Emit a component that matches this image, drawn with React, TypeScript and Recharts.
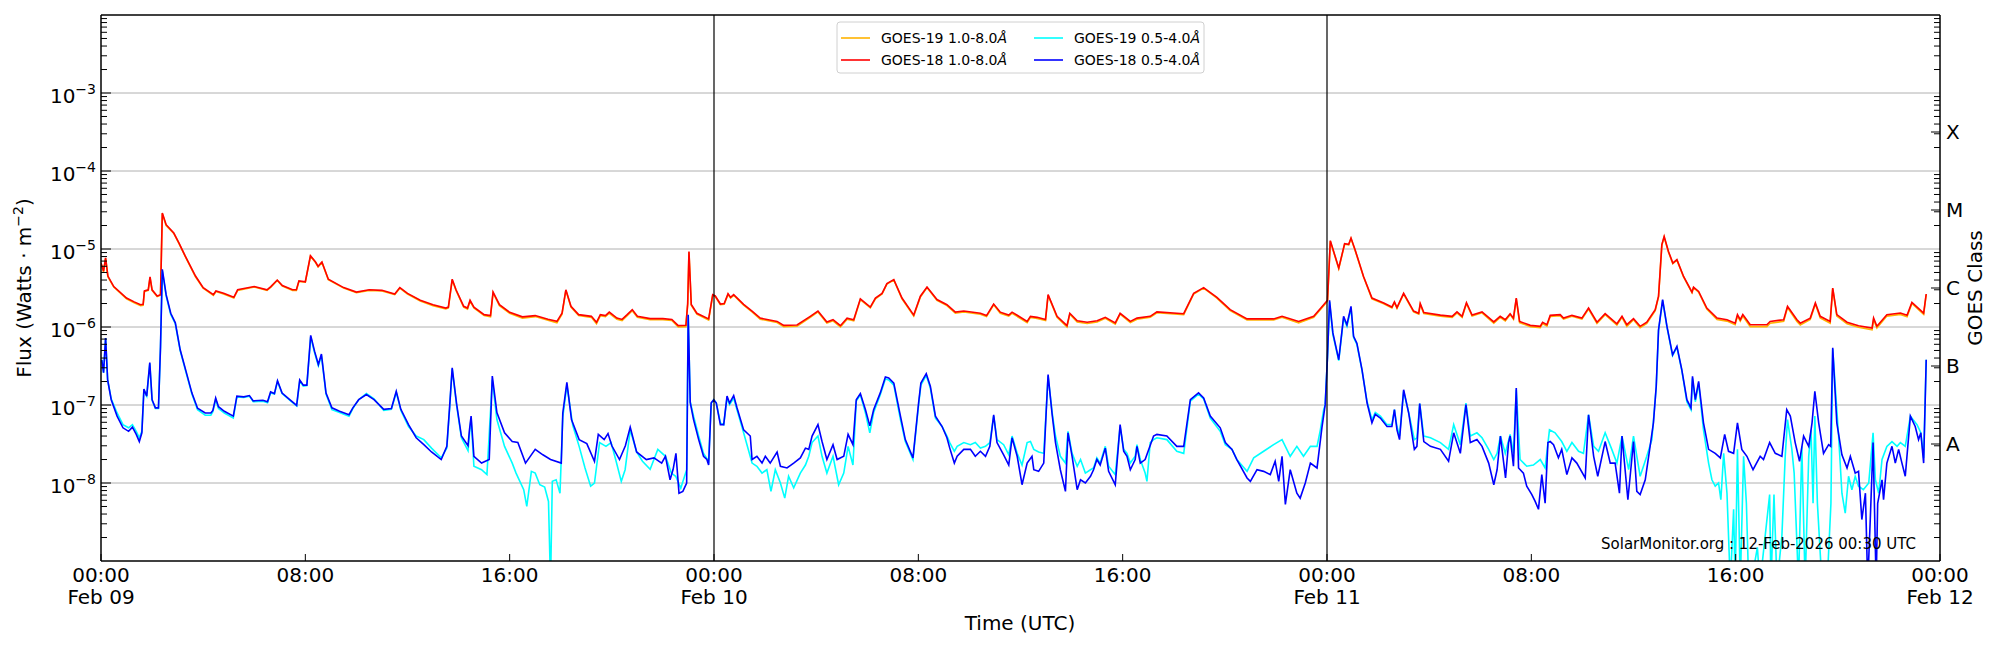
import React from "react"
import { LineChart, Line, XAxis, YAxis, ReferenceLine } from "recharts"

type Pt = [number, number]

// hours since 09-Feb 00:00 UTC, flux in W/m^2
const goes18Long: Pt[] = [
  [0,6.6e-6],[0.1,5.2e-6],[0.18,7.7e-6],[0.27,4.5e-6],[0.5,3.3e-6],[1.0,2.35e-6],[1.3,2.1e-6],[1.55,1.93e-6],[1.65,1.95e-6],[1.7,2.9e-6],
  [1.85,3.0e-6],[1.92,4.4e-6],[2.0,3.0e-6],[2.2,2.5e-6],[2.33,2.6e-6],[2.4,2.9e-5],[2.55,2.05e-5],[2.85,1.6e-5],[3.05,1.2e-5],[3.3,8.1e-6],
  [3.7,4.5e-6],[4.0,3.2e-6],[4.4,2.6e-6],[4.5,2.9e-6],[4.8,2.7e-6],[5.2,2.4e-6],[5.35,3.0e-6],[6.0,3.3e-6],[6.5,3.0e-6],[6.65,3.3e-6],
  [6.9,4.0e-6],[7.1,3.4e-6],[7.5,3.0e-6],[7.65,3.0e-6],[7.75,3.9e-6],[8.0,3.8e-6],[8.2,8.2e-6],[8.4,6.8e-6],[8.5,6.0e-6],[8.65,6.8e-6],
  [8.9,4.1e-6],[9.5,3.2e-6],[10.0,2.8e-6],[10.5,3.0e-6],[11.0,2.95e-6],[11.5,2.65e-6],[11.7,3.2e-6],[12.0,2.7e-6],[12.5,2.2e-6],[13.0,1.93e-6],
  [13.5,1.75e-6],[13.6,1.8e-6],[13.75,4.1e-6],[13.9,3.0e-6],[14.2,1.84e-6],[14.35,1.75e-6],[14.45,2.2e-6],[14.6,1.8e-6],[15.0,1.44e-6],[15.25,1.4e-6],
  [15.35,2.8e-6],[15.6,1.93e-6],[16.0,1.54e-6],[16.5,1.35e-6],[17.0,1.4e-6],[17.5,1.26e-6],[17.85,1.18e-6],[18.05,1.5e-6],[18.2,3.0e-6],[18.4,1.84e-6],
  [18.7,1.44e-6],[19.2,1.37e-6],[19.4,1.15e-6],[19.55,1.44e-6],[19.75,1.4e-6],[19.9,1.55e-6],[20.2,1.3e-6],[20.4,1.25e-6],[20.6,1.44e-6],[20.8,1.67e-6],
  [21.0,1.37e-6],[21.5,1.28e-6],[22.0,1.28e-6],[22.35,1.25e-6],[22.6,1.04e-6],[22.9,1.05e-6],[22.97,2.0e-6],[23.02,9.3e-6],[23.11,1.94e-6],[23.33,1.5e-6],
  [23.79,1.27e-6],[23.95,2.6e-6],[24.05,2.5e-6],[24.25,1.97e-6],[24.4,2.0e-6],[24.55,2.67e-6],[24.65,2.4e-6],[24.77,2.6e-6],[25.16,1.95e-6],[25.49,1.6e-6],
  [25.81,1.3e-6],[26.47,1.18e-6],[26.73,1.05e-6],[27.25,1.06e-6],[27.77,1.37e-6],[28.07,1.6e-6],[28.42,1.16e-6],[28.66,1.24e-6],[28.95,1.04e-6],[29.21,1.3e-6],
  [29.47,1.24e-6],[29.73,2.3e-6],[30.12,1.8e-6],[30.32,2.35e-6],[30.58,2.7e-6],[30.77,3.6e-6],[31.04,4.05e-6],[31.36,2.35e-6],[31.82,1.42e-6],[32.08,2.48e-6],
  [32.34,3.25e-6],[32.73,2.25e-6],[33.12,1.93e-6],[33.45,1.55e-6],[33.78,1.6e-6],[34.43,1.5e-6],[34.67,1.4e-6],[34.95,1.97e-6],[35.21,1.55e-6],[35.54,1.42e-6],
  [35.67,1.55e-6],[36.26,1.18e-6],[36.39,1.37e-6],[36.65,1.33e-6],[36.98,1.25e-6],[37.08,2.6e-6],[37.43,1.37e-6],[37.82,1.04e-6],[37.93,1.5e-6],[38.22,1.2e-6],
  [38.61,1.15e-6],[39.0,1.2e-6],[39.32,1.33e-6],[39.71,1.13e-6],[39.9,1.5e-6],[40.3,1.18e-6],[40.56,1.3e-6],[41.08,1.37e-6],[41.34,1.56e-6],[42.39,1.48e-6],
  [42.78,2.7e-6],[43.17,3.2e-6],[43.69,2.4e-6],[44.21,1.67e-6],[44.87,1.27e-6],[45.91,1.27e-6],[46.24,1.37e-6],[46.89,1.18e-6],[47.48,1.37e-6],[47.87,1.93e-6],
  [48.02,2.2e-6],[48.13,1.28e-5],[48.46,5.7e-6],[48.69,1.17e-5],[48.85,1.15e-5],[48.94,1.38e-5],[49.1,9.8e-6],[49.43,4.45e-6],[49.76,2.35e-6],[50.22,2.03e-6],
  [50.54,1.8e-6],[50.64,2.1e-6],[50.74,1.77e-6],[51.0,2.7e-6],[51.39,1.6e-6],[51.59,1.5e-6],[51.65,2.0e-6],[51.79,1.53e-6],[52.44,1.42e-6],[52.9,1.37e-6],
  [53.09,1.56e-6],[53.29,1.37e-6],[53.46,2.05e-6],[53.68,1.42e-6],[54.07,1.56e-6],[54.53,1.16e-6],[54.78,1.37e-6],[54.98,1.24e-6],[55.17,1.48e-6],[55.3,1.3e-6],
  [55.41,2.35e-6],[55.54,1.18e-6],[55.96,1.05e-6],[56.35,1.02e-6],[56.44,1.15e-6],[56.61,1.07e-6],[56.74,1.41e-6],[57.13,1.44e-6],[57.26,1.3e-6],[57.59,1.41e-6],
  [57.98,1.3e-6],[58.24,1.75e-6],[58.57,1.15e-6],[58.89,1.48e-6],[59.35,1.1e-6],[59.55,1.37e-6],[59.74,1.07e-6],[60.0,1.28e-6],[60.26,1.02e-6],[60.52,1.15e-6],
  [60.85,1.67e-6],[60.98,2.48e-6],[61.11,1.14e-5],[61.2,1.45e-5],[61.37,9.3e-6],[61.54,6.6e-6],[61.7,7.3e-6],[61.96,4.45e-6],[62.29,2.8e-6],[62.35,3.25e-6],
  [62.55,2.86e-6],[62.87,1.75e-6],[63.27,1.3e-6],[63.66,1.24e-6],[63.98,1.12e-6],[64.07,1.44e-6],[64.18,1.24e-6],[64.28,1.44e-6],[64.57,1.07e-6],[65.22,1.07e-6],
  [65.35,1.18e-6],[65.88,1.24e-6],[66.03,1.84e-6],[66.4,1.24e-6],[66.53,1.12e-6],[66.92,1.3e-6],[67.12,2.03e-6],[67.31,1.37e-6],[67.7,1.18e-6],[67.8,3.16e-6],
  [67.96,1.44e-6],[68.36,1.15e-6],[68.81,1.04e-6],[69.34,0.97e-6],[69.4,1.3e-6],[69.53,1.02e-6],[69.92,1.44e-6],[70.45,1.51e-6],[70.71,1.41e-6],[70.9,2.07e-6],
  [71.36,1.51e-6],[71.46,2.65e-6],
]

// GOES-19 long channel sits right under GOES-18, a touch lower in the quiet stretches
const goes19Long: Pt[] = [
  [0,6.5e-6],[0.1,5.1e-6],[0.18,7.6e-6],[0.27,4.4e-6],[0.5,3.25e-6],[1.0,2.3e-6],[1.3,2.05e-6],[1.55,1.88e-6],[1.65,1.9e-6],[1.7,2.85e-6],
  [1.85,2.95e-6],[1.92,4.3e-6],[2.0,2.95e-6],[2.2,2.45e-6],[2.33,2.55e-6],[2.4,2.85e-5],[2.55,2.0e-5],[2.85,1.58e-5],[3.05,1.18e-5],[3.3,8.0e-6],
  [3.7,4.4e-6],[4.0,3.15e-6],[4.4,2.55e-6],[4.5,2.85e-6],[4.8,2.65e-6],[5.2,2.35e-6],[5.35,2.95e-6],[6.0,3.25e-6],[6.5,2.95e-6],[6.65,3.25e-6],
  [6.9,3.95e-6],[7.1,3.35e-6],[7.5,2.95e-6],[7.65,2.95e-6],[7.75,3.85e-6],[8.0,3.75e-6],[8.2,8.1e-6],[8.4,6.7e-6],[8.5,5.9e-6],[8.65,6.7e-6],
  [8.9,4.05e-6],[9.5,3.15e-6],[10.0,2.75e-6],[10.5,2.95e-6],[11.0,2.9e-6],[11.5,2.6e-6],[11.7,3.15e-6],[12.0,2.65e-6],[12.5,2.15e-6],[13.0,1.88e-6],
  [13.5,1.7e-6],[13.6,1.75e-6],[13.75,4.0e-6],[13.9,2.95e-6],[14.2,1.8e-6],[14.35,1.7e-6],[14.45,2.15e-6],[14.6,1.75e-6],[15.0,1.4e-6],[15.25,1.35e-6],
  [15.35,2.75e-6],[15.6,1.88e-6],[16.0,1.5e-6],[16.5,1.3e-6],[17.0,1.36e-6],[17.5,1.22e-6],[17.85,1.13e-6],[18.05,1.46e-6],[18.2,2.95e-6],[18.4,1.8e-6],
  [18.7,1.4e-6],[19.2,1.33e-6],[19.4,1.1e-6],[19.55,1.4e-6],[19.75,1.36e-6],[19.9,1.5e-6],[20.2,1.26e-6],[20.4,1.21e-6],[20.6,1.4e-6],[20.8,1.62e-6],
  [21.0,1.33e-6],[21.5,1.24e-6],[22.0,1.24e-6],[22.35,1.21e-6],[22.6,1.0e-6],[22.9,1.01e-6],[22.97,1.95e-6],[23.02,9.1e-6],[23.11,1.9e-6],[23.33,1.46e-6],
  [23.79,1.23e-6],[23.95,2.55e-6],[24.05,2.45e-6],[24.25,1.93e-6],[24.4,1.96e-6],[24.55,2.62e-6],[24.65,2.35e-6],[24.77,2.55e-6],[25.16,1.9e-6],[25.49,1.56e-6],
  [25.81,1.26e-6],[26.47,1.14e-6],[26.73,1.01e-6],[27.25,1.02e-6],[27.77,1.33e-6],[28.07,1.56e-6],[28.42,1.12e-6],[28.66,1.2e-6],[28.95,1.0e-6],[29.21,1.26e-6],
  [29.47,1.2e-6],[29.73,2.25e-6],[30.12,1.76e-6],[30.32,2.3e-6],[30.58,2.65e-6],[30.77,3.55e-6],[31.04,4.0e-6],[31.36,2.3e-6],[31.82,1.38e-6],[32.08,2.43e-6],
  [32.34,3.2e-6],[32.73,2.2e-6],[33.12,1.88e-6],[33.45,1.5e-6],[33.78,1.56e-6],[34.43,1.46e-6],[34.67,1.36e-6],[34.95,1.93e-6],[35.21,1.5e-6],[35.54,1.38e-6],
  [35.67,1.5e-6],[36.26,1.14e-6],[36.39,1.33e-6],[36.65,1.29e-6],[36.98,1.21e-6],[37.08,2.55e-6],[37.43,1.33e-6],[37.82,1.0e-6],[37.93,1.46e-6],[38.22,1.16e-6],
  [38.61,1.11e-6],[39.0,1.16e-6],[39.32,1.29e-6],[39.71,1.09e-6],[39.9,1.46e-6],[40.3,1.14e-6],[40.56,1.26e-6],[41.08,1.33e-6],[41.34,1.52e-6],[42.39,1.44e-6],
  [42.78,2.65e-6],[43.17,3.15e-6],[43.69,2.35e-6],[44.21,1.62e-6],[44.87,1.23e-6],[45.91,1.23e-6],[46.24,1.33e-6],[46.89,1.13e-6],[47.48,1.33e-6],[47.87,1.88e-6],
  [48.02,2.15e-6],[48.13,1.26e-5],[48.46,5.6e-6],[48.69,1.15e-5],[48.85,1.13e-5],[48.94,1.36e-5],[49.1,9.6e-6],[49.43,4.4e-6],[49.76,2.3e-6],[50.22,1.98e-6],
  [50.54,1.76e-6],[50.64,2.05e-6],[50.74,1.73e-6],[51.0,2.65e-6],[51.39,1.56e-6],[51.59,1.46e-6],[51.65,1.95e-6],[51.79,1.49e-6],[52.44,1.38e-6],[52.9,1.33e-6],
  [53.09,1.52e-6],[53.29,1.33e-6],[53.46,2.0e-6],[53.68,1.38e-6],[54.07,1.52e-6],[54.53,1.12e-6],[54.78,1.33e-6],[54.98,1.2e-6],[55.17,1.44e-6],[55.3,1.26e-6],
  [55.41,2.3e-6],[55.54,1.14e-6],[55.96,1.01e-6],[56.35,0.98e-6],[56.44,1.11e-6],[56.61,1.03e-6],[56.74,1.37e-6],[57.13,1.4e-6],[57.26,1.26e-6],[57.59,1.37e-6],
  [57.98,1.26e-6],[58.24,1.7e-6],[58.57,1.11e-6],[58.89,1.44e-6],[59.35,1.06e-6],[59.55,1.33e-6],[59.74,1.02e-6],[60.0,1.24e-6],[60.26,0.98e-6],[60.52,1.11e-6],
  [60.85,1.62e-6],[60.98,2.43e-6],[61.11,1.12e-5],[61.2,1.42e-5],[61.37,9.1e-6],[61.54,6.5e-6],[61.7,7.2e-6],[61.96,4.4e-6],[62.29,2.75e-6],[62.35,3.2e-6],
  [62.55,2.8e-6],[62.87,1.7e-6],[63.27,1.25e-6],[63.66,1.19e-6],[63.98,1.07e-6],[64.07,1.38e-6],[64.18,1.19e-6],[64.28,1.38e-6],[64.57,1.01e-6],[65.22,1.01e-6],
  [65.35,1.12e-6],[65.88,1.18e-6],[66.03,1.78e-6],[66.4,1.18e-6],[66.53,1.06e-6],[66.92,1.25e-6],[67.12,1.97e-6],[67.31,1.31e-6],[67.7,1.12e-6],[67.8,3.1e-6],
  [67.96,1.38e-6],[68.36,1.1e-6],[68.81,0.99e-6],[69.34,0.92e-6],[69.4,1.25e-6],[69.53,0.97e-6],[69.92,1.38e-6],[70.45,1.45e-6],[70.71,1.35e-6],[70.9,2.0e-6],
  [71.36,1.45e-6],[71.46,2.6e-6],
]

const goes18Short: Pt[] = [
  [0.03,3.8e-7],[0.1,2.6e-7],[0.18,7.2e-7],[0.26,2.1e-7],[0.4,1.17e-7],[0.63,7.2e-8],[0.86,5.1e-8],[1.08,4.6e-8],[1.23,5.2e-8],[1.38,4.2e-8],
  [1.5,3.4e-8],[1.6,4.4e-8],[1.68,1.6e-7],[1.79,1.3e-7],[1.91,3.5e-7],[2.0,1.17e-7],[2.13,9.2e-8],[2.25,9.2e-8],[2.33,5.6e-7],[2.4,5.5e-6],
  [2.55,2.6e-6],[2.73,1.5e-6],[2.91,1.13e-6],[3.1,5.1e-7],[3.33,2.7e-7],[3.56,1.42e-7],[3.78,9.1e-8],[4.08,7.9e-8],[4.3,7.9e-8],[4.38,8.5e-8],
  [4.49,1.23e-7],[4.6,9.5e-8],[4.83,8.3e-8],[5.18,7.2e-8],[5.32,1.3e-7],[5.59,1.27e-7],[5.81,1.32e-7],[5.96,1.13e-7],[6.34,1.15e-7],[6.52,1.1e-7],
  [6.64,1.47e-7],[6.79,1.4e-7],[6.91,2.05e-7],[7.09,1.42e-7],[7.39,1.17e-7],[7.66,9.9e-8],[7.78,2.1e-7],[7.92,1.8e-7],[8.06,1.8e-7],[8.21,7.8e-7],
  [8.36,4.9e-7],[8.51,3.3e-7],[8.63,4.5e-7],[8.81,1.42e-7],[9.04,9.2e-8],[9.34,8.3e-8],[9.71,7.5e-8],[9.86,9.2e-8],[10.09,1.17e-7],[10.39,1.36e-7],
  [10.69,1.17e-7],[11.07,8.8e-8],[11.37,9.0e-8],[11.56,1.5e-7],[11.74,8.8e-8],[12.04,5.6e-8],[12.34,3.8e-8],[12.64,3.1e-8],[12.94,2.5e-8],[13.32,2.0e-8],
  [13.54,2.95e-8],[13.65,9.6e-8],[13.75,3.0e-7],[13.92,1.05e-7],[14.11,4.0e-8],[14.37,3.0e-8],[14.42,4.6e-8],[14.49,7.2e-8],[14.6,2.2e-8],[14.9,1.8e-8],
  [15.2,2.0e-8],[15.32,2.35e-7],[15.5,8.0e-8],[15.8,4.4e-8],[16.1,3.4e-8],[16.32,3.3e-8],[16.62,1.8e-8],[17.0,2.7e-8],[17.3,2.3e-8],[17.6,2.0e-8],
  [18.02,1.8e-8],[18.08,7.9e-8],[18.24,1.95e-7],[18.42,6.5e-8],[18.72,3.6e-8],[19.02,3.2e-8],[19.32,1.9e-8],[19.47,4.2e-8],[19.7,3.6e-8],[19.85,4.3e-8],
  [20.0,3.0e-8],[20.3,2.0e-8],[20.53,3.0e-8],[20.72,5.2e-8],[20.97,2.5e-8],[21.35,2.0e-8],[21.65,2.1e-8],[21.95,1.8e-8],[22.1,2.2e-8],[22.28,1.1e-8],
  [22.4,1.5e-8],[22.51,2.4e-8],[22.63,7.4e-9],[22.78,7.8e-9],[22.93,1.0e-8],[22.99,1.44e-6],[23.07,1.07e-7],[23.2,6.5e-8],[23.4,3.6e-8],[23.59,2.2e-8],
  [23.72,2.0e-8],[23.79,1.7e-8],[23.89,1.07e-7],[23.99,1.17e-7],[24.09,1.06e-7],[24.25,5.6e-8],[24.38,5.6e-8],[24.51,1.3e-7],[24.61,1.06e-7],[24.77,1.32e-7],
  [24.9,9.2e-8],[25.16,4.8e-8],[25.42,4.0e-8],[25.49,2.0e-8],[25.68,2.2e-8],[25.88,1.8e-8],[26.01,2.2e-8],[26.2,1.8e-8],[26.47,2.5e-8],[26.6,1.64e-8],
  [26.86,1.56e-8],[27.12,1.8e-8],[27.38,2.1e-8],[27.58,2.8e-8],[27.71,2.7e-8],[27.84,4.0e-8],[28.07,5.6e-8],[28.23,3.4e-8],[28.42,2.0e-8],[28.66,3.1e-8],
  [28.82,2.0e-8],[29.08,2.2e-8],[29.25,4.2e-8],[29.44,3.1e-8],[29.57,1.17e-7],[29.73,1.4e-7],[29.93,8.7e-8],[30.1,5.4e-8],[30.25,8.7e-8],[30.51,1.43e-7],
  [30.71,2.29e-7],[30.84,2.22e-7],[31.04,1.91e-7],[31.3,7.2e-8],[31.49,3.6e-8],[31.79,2.1e-8],[32.01,1.06e-7],[32.1,1.91e-7],[32.31,2.52e-7],[32.47,1.74e-7],
  [32.67,7.2e-8],[32.93,5.3e-8],[33.12,3.8e-8],[33.23,2.8e-8],[33.41,1.8e-8],[33.52,2.2e-8],[33.78,2.7e-8],[34.04,2.7e-8],[34.23,2.2e-8],[34.43,2.55e-8],
  [34.63,2.2e-8],[34.8,2.95e-8],[34.95,7.5e-8],[35.08,3.3e-8],[35.34,2.3e-8],[35.54,1.7e-8],[35.67,3.8e-8],[35.87,2.2e-8],[36.06,9.5e-9],[36.26,1.8e-8],
  [36.45,2.2e-8],[36.52,1.48e-8],[36.71,1.41e-8],[36.91,1.8e-8],[37.01,8.7e-8],[37.08,2.45e-7],[37.24,7.5e-8],[37.37,3.3e-8],[37.56,1.48e-8],[37.76,7.8e-9],
  [37.86,4.4e-8],[38.02,2.2e-8],[38.22,8.2e-9],[38.35,1.1e-8],[38.54,1.0e-8],[38.74,1.22e-8],[38.86,1.48e-8],[38.99,2.0e-8],[39.12,1.7e-8],[39.32,2.8e-8],
  [39.45,1.41e-8],[39.71,9.5e-9],[39.9,5.6e-8],[40.04,2.55e-8],[40.17,2.2e-8],[40.3,1.48e-8],[40.49,2.0e-8],[40.56,2.95e-8],[40.69,1.8e-8],[40.88,2.0e-8],
  [41.21,4.0e-8],[41.34,4.2e-8],[41.73,4.0e-8],[42.12,2.95e-8],[42.39,2.95e-8],[42.65,1.17e-7],[42.97,1.43e-7],[43.17,1.23e-7],[43.43,7.2e-8],[43.82,5.1e-8],
  [44.02,3.3e-8],[44.28,2.7e-8],[44.47,2.0e-8],[44.87,1.16e-8],[45.0,1.05e-8],[45.26,1.48e-8],[45.52,1.41e-8],[45.78,1.28e-8],[45.97,1.9e-8],[46.11,1.05e-8],
  [46.24,2.2e-8],[46.37,5.3e-9],[46.56,1.48e-8],[46.82,7.4e-9],[46.95,6.4e-9],[47.15,1.0e-8],[47.35,1.8e-8],[47.61,1.56e-8],[47.8,5.1e-8],[47.93,1.01e-7],
  [48.02,4.2e-7],[48.1,2.2e-6],[48.23,8.4e-7],[48.46,3.8e-7],[48.65,1.37e-6],[48.78,1.07e-6],[48.94,1.84e-6],[49.04,7.6e-7],[49.17,6.2e-7],[49.37,2.84e-7],
  [49.57,1.06e-7],[49.76,5.9e-8],[49.89,7.6e-8],[50.09,6.8e-8],[50.35,5.3e-8],[50.54,5.3e-8],[50.64,8.7e-8],[50.74,4.8e-8],[50.84,3.6e-8],[51.0,1.57e-7],
  [51.2,7.8e-8],[51.42,2.7e-8],[51.52,2.95e-8],[51.63,1.04e-7],[51.79,3.4e-8],[52.05,2.95e-8],[52.44,2.7e-8],[52.76,1.9e-8],[52.96,4.4e-8],[53.22,2.4e-8],
  [53.44,1.01e-7],[53.61,3.3e-8],[53.87,3.6e-8],[54.07,2.95e-8],[54.33,1.8e-8],[54.53,9.5e-9],[54.66,1.48e-8],[54.79,4.0e-8],[54.99,1.16e-8],[55.11,3.3e-8],
  [55.17,4.0e-8],[55.3,1.64e-8],[55.41,1.65e-7],[55.5,1.56e-8],[55.69,1.34e-8],[55.82,9.1e-9],[56.02,7.1e-9],[56.15,5.8e-9],[56.28,4.6e-9],[56.41,1.28e-8],
  [56.54,5.5e-9],[56.65,3.3e-8],[56.74,3.4e-8],[56.87,3.1e-8],[57.06,2.1e-8],[57.19,2.7e-8],[57.39,1.28e-8],[57.59,2.1e-8],[57.78,1.8e-8],[58.11,1.16e-8],
  [58.24,7.5e-8],[58.44,2.2e-8],[58.6,1.22e-8],[58.89,3.4e-8],[59.09,1.8e-8],[59.28,1.8e-8],[59.45,7.4e-9],[59.55,4.0e-8],[59.78,6.1e-9],[60.0,3.4e-8],
  [60.13,7.8e-9],[60.26,7.1e-9],[60.46,1.1e-8],[60.65,2.95e-8],[60.78,5.9e-8],[60.89,1.74e-7],[60.98,9.2e-7],[61.14,2.24e-6],[61.31,1.02e-6],[61.53,4.4e-7],
  [61.7,5.65e-7],[61.89,2.84e-7],[62.09,1.17e-7],[62.25,9.2e-8],[62.31,2.33e-7],[62.42,1.17e-7],[62.55,2.01e-7],[62.74,5.9e-8],[62.94,2.7e-8],[63.2,2.4e-8],
  [63.4,2.1e-8],[63.57,4.2e-8],[63.72,2.55e-8],[63.92,2.4e-8],[64.07,5.9e-8],[64.24,2.7e-8],[64.44,2.2e-8],[64.68,1.48e-8],[64.96,2.2e-8],[65.09,2.0e-8],
  [65.33,3.3e-8],[65.55,2.4e-8],[65.81,2.2e-8],[66.0,8.7e-8],[66.14,7.2e-8],[66.33,3.3e-8],[66.5,1.9e-8],[66.66,4.0e-8],[66.86,2.95e-8],[66.99,5.9e-8],
  [67.1,1.5e-7],[67.25,5.9e-8],[67.44,2.4e-8],[67.64,3.1e-8],[67.72,2.95e-8],[67.8,5.4e-7],[67.96,5.9e-8],[68.16,2.3e-8],[68.36,1.56e-8],[68.49,2.2e-8],
  [68.68,1.34e-8],[68.81,1.41e-8],[68.94,3.4e-9],[69.08,7.4e-9],[69.17,5e-10],[69.27,3.4e-9],[69.38,3.3e-8],[69.5,5e-10],[69.56,5.5e-9],[69.73,1.1e-8],
  [69.79,6.1e-9],[69.92,1.8e-8],[70.12,2.95e-8],[70.25,1.8e-8],[70.38,2.7e-8],[70.51,1.8e-8],[70.64,1.22e-8],[70.84,7.2e-8],[71.03,5.3e-8],[71.16,3.6e-8],
  [71.25,4.4e-8],[71.36,1.8e-8],[71.46,3.8e-7],
]

const goes19Short: Pt[] = [
  [0.03,3.8e-7],[0.1,2.6e-7],[0.18,7.2e-7],[0.26,2.1e-7],[0.4,1.2e-7],[0.63,7.9e-8],[0.86,5.6e-8],[1.08,5.1e-8],[1.23,5.6e-8],[1.38,4.6e-8],
  [1.5,3.8e-8],[1.6,4.6e-8],[1.68,1.55e-7],[1.79,1.3e-7],[1.91,3.4e-7],[2.0,1.15e-7],[2.13,9.0e-8],[2.25,9.0e-8],[2.33,5.5e-7],[2.4,5.3e-6],
  [2.55,2.5e-6],[2.73,1.45e-6],[2.91,1.1e-6],[3.1,5.0e-7],[3.33,2.6e-7],[3.56,1.38e-7],[3.78,8.7e-8],[4.08,7.4e-8],[4.3,7.4e-8],[4.38,8.2e-8],
  [4.49,1.18e-7],[4.6,9.0e-8],[4.83,7.9e-8],[5.18,6.8e-8],[5.32,1.27e-7],[5.59,1.25e-7],[5.81,1.3e-7],[5.96,1.1e-7],[6.34,1.12e-7],[6.52,1.07e-7],
  [6.64,1.43e-7],[6.79,1.38e-7],[6.91,2.0e-7],[7.09,1.4e-7],[7.39,1.15e-7],[7.66,9.7e-8],[7.78,2.05e-7],[7.92,1.75e-7],[8.06,1.78e-7],[8.21,7.5e-7],
  [8.36,4.7e-7],[8.51,3.2e-7],[8.63,4.3e-7],[8.81,1.38e-7],[9.04,8.7e-8],[9.34,8.0e-8],[9.71,7.2e-8],[9.86,9.0e-8],[10.09,1.17e-7],[10.39,1.4e-7],
  [10.69,1.2e-7],[11.07,8.5e-8],[11.37,8.8e-8],[11.56,1.45e-7],[11.74,8.5e-8],[12.04,5.3e-8],[12.34,4.0e-8],[12.64,3.6e-8],[12.94,2.8e-8],[13.32,2.1e-8],
  [13.54,2.8e-8],[13.65,9.2e-8],[13.75,2.9e-7],[13.92,1.0e-7],[14.11,3.8e-8],[14.37,2.6e-8],[14.42,4.0e-8],[14.49,6.8e-8],[14.6,1.64e-8],[14.9,1.48e-8],
  [15.11,1.28e-8],[15.32,2.1e-7],[15.5,6.5e-8],[15.8,2.95e-8],[16.1,1.8e-8],[16.25,1.34e-8],[16.55,8.2e-9],[16.67,5.0e-9],[16.85,1.41e-8],[17.0,1.34e-8],
  [17.18,9.5e-9],[17.37,8.9e-9],[17.52,5.8e-9],[17.6,5e-10],[17.67,1.05e-8],[17.82,1.1e-8],[17.97,7.4e-9],[18.08,7.0e-8],[18.24,1.8e-7],[18.47,5.5e-8],
  [18.72,2.95e-8],[18.95,1.56e-8],[19.17,9.1e-9],[19.32,1.0e-8],[19.52,3.3e-8],[19.77,2.95e-8],[19.97,3.3e-8],[20.15,2.0e-8],[20.37,1.05e-8],[20.52,1.48e-8],
  [20.72,4.8e-8],[20.97,2.5e-8],[21.2,1.9e-8],[21.5,1.5e-8],[21.8,2.7e-8],[22.1,2.2e-8],[22.33,1.34e-8],[22.5,1.22e-8],[22.7,8.6e-9],[22.93,1.48e-8],
  [22.99,1.4e-6],[23.07,1.1e-7],[23.2,7.2e-8],[23.4,4.0e-8],[23.59,2.4e-8],[23.79,1.9e-8],[23.89,1.04e-7],[23.99,1.17e-7],[24.09,1.06e-7],[24.25,5.9e-8],
  [24.38,5.6e-8],[24.51,1.23e-7],[24.61,1.01e-7],[24.77,1.23e-7],[24.9,8.7e-8],[25.16,4.4e-8],[25.49,1.8e-8],[25.68,1.64e-8],[25.88,1.34e-8],[26.07,1.48e-8],
  [26.23,7.8e-9],[26.4,1.48e-8],[26.6,1.0e-8],[26.77,6.4e-9],[26.92,1.22e-8],[27.12,8.7e-9],[27.38,1.34e-8],[27.58,1.7e-8],[27.71,2.2e-8],[27.84,3.3e-8],
  [28.07,4.0e-8],[28.23,2.2e-8],[28.42,1.34e-8],[28.66,2.2e-8],[28.88,9.5e-9],[29.08,1.34e-8],[29.25,2.95e-8],[29.44,1.7e-8],[29.57,1.12e-7],[29.73,1.35e-7],
  [29.93,7.9e-8],[30.1,4.4e-8],[30.25,8.0e-8],[30.51,1.35e-7],[30.71,2.15e-7],[30.84,2.1e-7],[31.04,1.8e-7],[31.3,6.5e-8],[31.49,3.4e-8],[31.79,2.0e-8],
  [32.01,1.0e-7],[32.1,1.8e-7],[32.31,2.4e-7],[32.47,1.65e-7],[32.67,6.8e-8],[32.93,5.3e-8],[33.12,4.0e-8],[33.23,3.3e-8],[33.41,2.55e-8],[33.52,2.95e-8],
  [33.78,3.3e-8],[34.04,3.1e-8],[34.23,3.3e-8],[34.43,2.8e-8],[34.63,2.95e-8],[34.8,3.3e-8],[34.95,7.2e-8],[35.08,3.6e-8],[35.34,3.1e-8],[35.54,2.3e-8],
  [35.67,4.0e-8],[35.87,2.4e-8],[36.06,1.7e-8],[36.26,3.3e-8],[36.39,3.4e-8],[36.52,2.7e-8],[36.71,2.5e-8],[36.91,2.4e-8],[37.01,9.0e-8],[37.08,2.35e-7],
  [37.24,8.0e-8],[37.37,4.0e-8],[37.56,2.2e-8],[37.76,1.8e-8],[37.86,4.6e-8],[38.02,2.4e-8],[38.22,1.64e-8],[38.35,2.0e-8],[38.54,1.34e-8],[38.74,1.48e-8],
  [38.86,1.56e-8],[38.99,2.1e-8],[39.12,1.8e-8],[39.32,2.95e-8],[39.45,1.64e-8],[39.71,1.28e-8],[39.9,5.3e-8],[40.04,2.7e-8],[40.17,2.4e-8],[40.3,1.8e-8],
  [40.49,2.2e-8],[40.56,3.1e-8],[40.69,2.0e-8],[40.88,1.34e-8],[40.95,1.05e-8],[41.08,3.3e-8],[41.21,3.6e-8],[41.34,3.8e-8],[41.73,3.6e-8],[42.12,2.55e-8],
  [42.39,2.4e-8],[42.65,1.12e-7],[42.97,1.38e-7],[43.17,1.2e-7],[43.43,6.8e-8],[43.82,4.6e-8],[44.02,3.1e-8],[44.28,2.7e-8],[44.47,2.0e-8],[44.87,1.41e-8],
  [45.13,2.1e-8],[45.52,2.55e-8],[45.91,3.1e-8],[46.24,3.6e-8],[46.56,2.2e-8],[46.82,2.95e-8],[47.08,2.2e-8],[47.35,2.95e-8],[47.61,2.95e-8],[47.74,4.8e-8],
  [47.87,8.7e-8],[47.93,1.01e-7],[48.02,4.2e-7],[48.1,2.1e-6],[48.23,8.0e-7],[48.46,3.7e-7],[48.65,1.3e-6],[48.78,1.02e-6],[48.94,1.75e-6],[49.04,7.4e-7],
  [49.17,6.0e-7],[49.37,2.8e-7],[49.57,1.1e-7],[49.76,6.5e-8],[49.89,8.0e-8],[50.09,7.2e-8],[50.35,5.6e-8],[50.54,5.6e-8],[50.64,8.7e-8],[50.74,5.3e-8],
  [50.84,4.0e-8],[51.0,1.5e-7],[51.2,8.0e-8],[51.42,3.6e-8],[51.52,3.8e-8],[51.63,1.04e-7],[51.79,4.0e-8],[52.05,3.8e-8],[52.44,3.3e-8],[52.76,2.7e-8],
  [52.96,5.6e-8],[53.22,3.1e-8],[53.44,1.06e-7],[53.61,4.0e-8],[53.87,4.4e-8],[54.07,3.8e-8],[54.33,2.7e-8],[54.53,2.0e-8],[54.66,2.4e-8],[54.79,4.0e-8],
  [54.98,2.4e-8],[55.17,4.2e-8],[55.3,2.4e-8],[55.41,1.57e-7],[55.56,2.0e-8],[55.82,1.64e-8],[56.08,1.7e-8],[56.35,2.0e-8],[56.54,1.56e-8],[56.71,4.8e-8],
  [56.93,4.4e-8],[57.19,3.4e-8],[57.39,2.55e-8],[57.59,3.3e-8],[57.85,2.55e-8],[58.04,2.4e-8],[58.24,7.5e-8],[58.44,2.95e-8],[58.63,2.55e-8],[58.89,4.4e-8],
  [59.15,2.7e-8],[59.35,1.8e-8],[59.55,4.0e-8],[59.81,1.48e-8],[60.0,4.0e-8],[60.26,1.22e-8],[60.52,2.2e-8],[60.72,3.6e-8],[60.89,1.7e-7],[60.98,9.0e-7],
  [61.14,2.2e-6],[61.31,1.0e-6],[61.53,4.3e-7],[61.7,5.5e-7],[61.89,2.8e-7],[62.09,1.1e-7],[62.25,8.7e-8],[62.31,2.2e-7],[62.42,1.1e-7],[62.55,1.9e-7],
  [62.74,4.8e-8],[62.94,1.8e-8],[63.07,1.1e-8],[63.2,9.1e-9],[63.33,1.0e-8],[63.42,6.1e-9],[63.53,2.4e-8],[63.66,7.4e-9],[63.79,5e-10],[63.92,4.6e-9],
  [63.98,5e-10],[64.07,2.7e-8],[64.18,5e-10],[64.31,2.2e-8],[64.42,5.5e-9],[64.51,5e-10],[64.6,5e-10],[64.85,1.5e-9],[64.95,5e-10],[65.33,7.1e-9],
  [65.38,5e-10],[65.5,7.1e-9],[65.62,5e-10],[65.81,2.1e-9],[65.94,2.2e-8],[66.03,6.5e-8],[66.2,2.7e-8],[66.29,1.34e-8],[66.46,5e-10],[66.59,2.95e-8],
  [66.72,5e-10],[66.86,2.2e-8],[66.95,4.8e-8],[67.03,5.5e-9],[67.1,7.2e-8],[67.2,5.5e-9],[67.38,5e-10],[67.58,5e-10],[67.73,5.5e-9],[67.8,5.2e-7],
  [68.03,4.0e-8],[68.16,7.4e-9],[68.29,4.1e-9],[68.42,1.22e-8],[68.55,8.2e-9],[68.68,1.22e-8],[68.81,9.1e-9],[69.0,8.2e-9],[69.21,1.0e-8],[69.38,4.4e-8],
  [69.47,1.1e-8],[69.6,7.4e-9],[69.73,2.0e-8],[69.92,2.95e-8],[70.12,3.4e-8],[70.32,2.95e-8],[70.45,3.3e-8],[70.64,2.95e-8],[70.84,7.2e-8],[71.1,5.6e-8],
  [71.25,4.4e-8],[71.36,2.1e-8],[71.46,3.8e-7],
]

const xTicks = [0, 8, 16, 24, 32, 40, 48, 56, 64, 72]
const xTickTimes = ["00:00", "08:00", "16:00", "00:00", "08:00", "16:00", "00:00", "08:00", "16:00", "00:00"]
const xTickDates = ["Feb 09", "", "", "Feb 10", "", "", "Feb 11", "", "", "Feb 12"]
const dayBoundaries = [24, 48]
const decadeExps = [-8, -7, -6, -5, -4, -3]
const classLabels = ["A", "B", "C", "M", "X"]
const classExps = [-7.5, -6.5, -5.5, -4.5, -3.5]

const series = [
  { name: "GOES-19 1.0-8.0", data: goes19Long, color: "#ffb300" },
  { name: "GOES-18 1.0-8.0", data: goes18Long, color: "#ff0000" },
  { name: "GOES-19 0.5-4.0", data: goes19Short, color: "#00ffff" },
  { name: "GOES-18 0.5-4.0", data: goes18Short, color: "#0000ff" },
]

const W = 2000
const H = 650
const FONT = "'DejaVu Sans', sans-serif"

const minorTicks: number[] = []
for (let e = -9; e <= -3; e++) {
  for (let k = 2; k <= 9; k++) minorTicks.push(k * Math.pow(10, e))
}
const leftTicks = [...decadeExps.map((e) => Math.pow(10, e)), ...minorTicks]
const rightTicks = [...classExps.map((e) => Math.pow(10, e)), ...minorTicks]

const toRows = (pts: Pt[]) => pts.map(([t, v]) => ({ t, v }))

const XTick = ({ x, y, payload }: any) => {
  const i = xTicks.indexOf(payload.value)
  return (
    <g>
      <line x1={x} x2={x} y1={y} y2={y - 7} stroke="#000" strokeWidth={1} />
      <text x={x} y={y + 21} textAnchor="middle" fontSize={20} fill="#000">
        {xTickTimes[i]}
      </text>
      {xTickDates[i] ? (
        <text x={x} y={y + 43} textAnchor="middle" fontSize={20} fill="#000">
          {xTickDates[i]}
        </text>
      ) : null}
    </g>
  )
}

const LeftTick = ({ x, y, payload }: any) => {
  const e = Math.log10(payload.value)
  const major = Math.abs(e - Math.round(e)) < 1e-6
  return (
    <g>
      <line x1={x} x2={x + (major ? 10 : 6)} y1={y} y2={y} stroke="#000" strokeWidth={1} />
      {major ? (
        <text x={x - 5} y={y + 9.5} textAnchor="end" fontSize={20} fill="#000">
          10
          <tspan dy={-8.5} fontSize={14}>
            {"\u2212" + Math.abs(Math.round(e))}
          </tspan>
        </text>
      ) : null}
    </g>
  )
}

const RightTick = ({ x, y, payload }: any) => {
  const e = Math.log10(payload.value)
  const ci = classExps.findIndex((c) => Math.abs(c - e) < 1e-6)
  return (
    <g>
      <line x1={x} x2={x - (ci >= 0 ? 9 : 6)} y1={y} y2={y} stroke="#000" strokeWidth={1} />
      {ci >= 0 ? (
        <text x={x + 6} y={y + 7} textAnchor="start" fontSize={20} fill="#000">
          {classLabels[ci]}
        </text>
      ) : null}
    </g>
  )
}

const frame = { stroke: "#000", strokeWidth: 1.5 }

export default function App() {
  return (
    <div
      style={{
        position: "absolute",
        left: 0,
        top: 0,
        width: W,
        height: H,
        background: "#fff",
        fontFamily: FONT,
      }}
    >
      <LineChart width={W} height={H} margin={{ top: 15, right: 0, bottom: 0, left: 0 }}>
        <XAxis
          type="number"
          dataKey="t"
          domain={[0, 72]}
          ticks={xTicks}
          interval={0}
          height={89}
          tickSize={0}
          tickMargin={0}
          tickLine={false}
          axisLine={frame}
          tick={(p: any) => <XTick {...p} />}
          allowDataOverflow
        />
        <YAxis
          yAxisId="left"
          type="number"
          scale="log"
          domain={[1e-9, 1e-2]}
          ticks={leftTicks}
          interval={0}
          width={101}
          tickSize={0}
          tickMargin={0}
          tickLine={false}
          axisLine={frame}
          tick={(p: any) => <LeftTick {...p} />}
          allowDataOverflow
        />
        <YAxis
          yAxisId="right"
          orientation="right"
          type="number"
          scale="log"
          domain={[1e-9, 1e-2]}
          ticks={rightTicks}
          interval={0}
          width={60}
          tickSize={0}
          tickMargin={0}
          tickLine={false}
          axisLine={frame}
          tick={(p: any) => <RightTick {...p} />}
          allowDataOverflow
        />
        {decadeExps.map((e) => (
          <ReferenceLine key={e} yAxisId="left" y={Math.pow(10, e)} stroke="#b0b0b0" strokeWidth={1} />
        ))}
        <ReferenceLine yAxisId="left" y={1e-2} stroke="#000" strokeWidth={1.5} ifOverflow="visible" />
        {series.map((s) => (
          <Line
            key={s.name}
            yAxisId="left"
            data={toRows(s.data)}
            dataKey="v"
            type="linear"
            stroke={s.color}
            strokeWidth={1.6}
            dot={false}
            activeDot={false}
            isAnimationActive={false}
          />
        ))}
        {dayBoundaries.map((d) => (
          <ReferenceLine key={d} yAxisId="left" x={d} stroke="#000" strokeWidth={1.2} />
        ))}
      </LineChart>

      <svg
        width={W}
        height={H}
        style={{ position: "absolute", left: 0, top: 0, pointerEvents: "none", fontFamily: FONT }}
      >
        {/* legend */}
        <rect x={837} y={22} width={367} height={51} rx={3} fill="#fff" fillOpacity={0.85} stroke="#d0d0d0" />
        {series.map((s, i) => {
          const col = Math.floor(i / 2)
          const row = i % 2
          const lx = col === 0 ? 841 : 1034
          const cy = row === 0 ? 38 : 60
          return (
            <g key={s.name}>
              <line x1={lx} x2={lx + 29} y1={cy} y2={cy} stroke={s.color} strokeWidth={1.6} />
              <text x={lx + 40} y={cy + 5} fontSize={14} fill="#000">
                {s.name}
                <tspan fontStyle="italic">Å</tspan>
              </text>
            </g>
          )
        })}

        <text x={1916} y={549} textAnchor="end" fontSize={15} fill="#000">
          SolarMonitor.org : 12-Feb-2026 00:30 UTC
        </text>

        <text x={1020} y={630} textAnchor="middle" fontSize={20} fill="#000">
          Time (UTC)
        </text>

        <text x={31} y={288} textAnchor="middle" fontSize={20} fill="#000" transform="rotate(-90 31 288)">
          Flux (Watts · m
          <tspan dy={-8} fontSize={14}>
            {"\u22122"}
          </tspan>
          <tspan dy={8}>)</tspan>
        </text>

        <text x={1982} y={288} textAnchor="middle" fontSize={20} fill="#000" transform="rotate(-90 1982 288)">
          GOES Class
        </text>
      </svg>
    </div>
  )
}
